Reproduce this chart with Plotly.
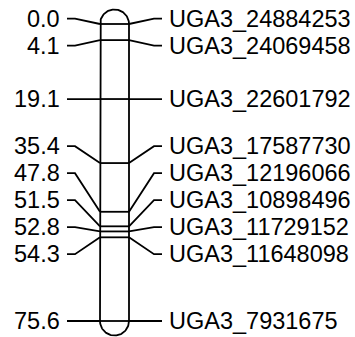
import numpy as np
import plotly.graph_objects as go

# Linkage group: marker positions (cM) and marker names
positions = [0.0, 4.1, 19.1, 35.4, 47.8, 51.5, 52.8, 54.3, 75.6]
markers = [
    "UGA3_24884253", "UGA3_24069458", "UGA3_22601792", "UGA3_17587730",
    "UGA3_12196066", "UGA3_10898496", "UGA3_11729152", "UGA3_11648098",
    "UGA3_7931675",
]
pos_labels = [f"{p:.1f}" for p in positions]

W, H = 355, 337
PAD_TOP, PAD_BOT = 24, 16
scale = (H - PAD_TOP - PAD_BOT) / (max(positions) - min(positions))  # px per cM
y_top = min(positions) - PAD_TOP / scale
y_bot = max(positions) + PAD_BOT / scale

# horizontal layout (x axis in pixel units)
CX, HALF = 114.5, 14.5
XL, XR = CX - HALF, CX + HALF
KINK = 25
STUB = 8
LW = 1.8
FONT = dict(family="Liberation Sans, Arial", size=23.5, color="black")


def spread(pos, gap):
    """Place labels at least `gap` apart, centring each crowded run."""
    groups = [[i] for i in range(len(pos))]
    while True:
        placed = []
        for g in groups:
            c = (pos[g[0]] + pos[g[-1]]) / 2
            start = c - gap * (len(g) - 1) / 2
            placed.append([start + k * gap for k in range(len(g))])
        merged = False
        for j in range(len(groups) - 1):
            if placed[j + 1][0] - placed[j][-1] < gap - 1e-9:
                groups[j] = groups[j] + groups[j + 1]
                del groups[j + 1]
                merged = True
                break
        if not merged:
            return [v for grp in placed for v in grp]


label_y = spread(positions, 27 / scale)

fig = go.Figure()
line = dict(color="black", width=LW)

# chromosome outline with rounded ends
r_cm = HALF / scale
t = np.linspace(0, np.pi, 60)
top_x = CX - HALF * np.cos(t)
top_y = min(positions) - r_cm * np.sin(t)
bot_x = CX + HALF * np.cos(t)
bot_y = max(positions) + r_cm * np.sin(t)
ox = np.concatenate([[XL], top_x, [XR], bot_x, [XL]])
oy = np.concatenate([[max(positions)], top_y, [max(positions)], bot_y, [max(positions)]])
fig.add_trace(go.Scatter(x=ox, y=oy, mode="lines", line=line, hoverinfo="skip"))

# marker ticks and connectors
for p, ly in zip(positions, label_y):
    fig.add_trace(go.Scatter(x=[XL, XR], y=[p, p], mode="lines", line=line, hoverinfo="skip"))
    fig.add_trace(go.Scatter(
        x=[XL - KINK - STUB, XL - KINK, XL], y=[ly, ly, p],
        mode="lines", line=line, hoverinfo="skip"))
    fig.add_trace(go.Scatter(
        x=[XR, XR + KINK, XR + KINK + STUB], y=[p, ly, ly],
        mode="lines", line=line, hoverinfo="skip"))

for p_txt, name, ly in zip(pos_labels, markers, label_y):
    fig.add_annotation(x=XL - KINK - STUB - 5, y=ly, text=p_txt, showarrow=False,
                       xanchor="right", yanchor="middle", font=FONT)
    fig.add_annotation(x=XR + KINK + STUB + 5, y=ly, text=name, showarrow=False,
                       xanchor="left", yanchor="middle", font=FONT)

fig.update_layout(
    width=W, height=H, margin=dict(l=0, r=0, t=0, b=0),
    paper_bgcolor="white", plot_bgcolor="white", showlegend=False,
    xaxis=dict(range=[0, W], visible=False, fixedrange=True),
    yaxis=dict(range=[y_bot, y_top], visible=False, fixedrange=True),
)
fig.write_html("out.html")
